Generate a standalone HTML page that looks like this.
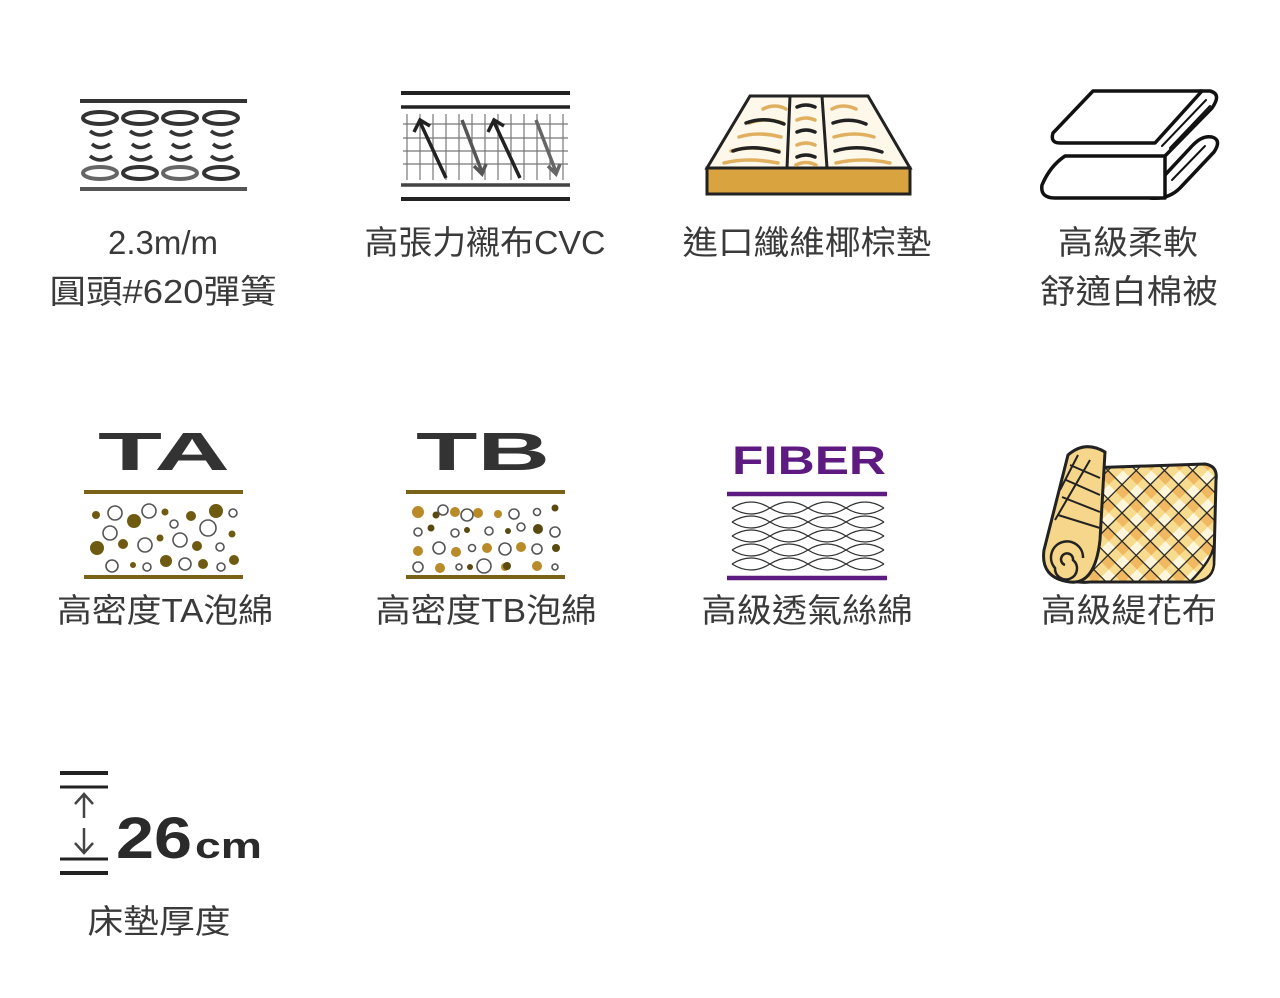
<!DOCTYPE html>
<html><head><meta charset="utf-8"><style>
html,body{margin:0;padding:0;background:#fff;}
svg{display:block;}
.lb{font-family:"Liberation Sans","Noto Sans CJK TC",sans-serif;font-size:33px;fill:#3a3a3a;text-anchor:middle;}
</style></head><body>
<svg width="1280" height="998" viewBox="0 0 1280 998" xmlns="http://www.w3.org/2000/svg">
<!-- Spring icon -->
<g stroke="#333" fill="none">
<line x1="80" y1="101" x2="247" y2="101" stroke-width="4"/>
<line x1="80" y1="189" x2="247" y2="189" stroke-width="4" stroke="#555"/>
<g stroke-width="4">
<ellipse cx="100" cy="118" rx="17" ry="6"/><ellipse cx="140" cy="118" rx="17" ry="6"/><ellipse cx="180" cy="118" rx="17" ry="6"/><ellipse cx="221" cy="118" rx="17" ry="6"/>
<ellipse cx="100" cy="173" rx="17" ry="6" stroke="#666"/><ellipse cx="140" cy="173" rx="17" ry="6"/><ellipse cx="180" cy="173" rx="17" ry="6" stroke="#666"/><ellipse cx="221" cy="173" rx="17" ry="6"/>
</g>
<g stroke-width="3.5">
<path d="M90,131 Q100,139 112,131 M130,131 Q140,139 152,131 M170,131 Q180,139 192,131 M211,131 Q221,139 233,131"/>
<path d="M92,144 Q100,151 110,144 M132,144 Q140,151 150,144 M172,144 Q180,151 190,144 M213,144 Q221,151 231,144"/>
<path d="M90,156 Q100,164 112,156 M130,156 Q140,164 152,156 M170,156 Q180,164 192,156 M211,156 Q221,164 233,156"/>
</g>
</g>
<!-- CVC icon -->
<g stroke="#222" fill="none">
<line x1="401" y1="93" x2="570" y2="93" stroke-width="4"/>
<line x1="401" y1="107" x2="570" y2="107" stroke-width="3.5"/>
<line x1="401" y1="185" x2="570" y2="185" stroke-width="3.5" stroke="#444"/>
<line x1="401" y1="199" x2="570" y2="199" stroke-width="4"/>
<g stroke="#777" stroke-width="1.2">
<line x1="403" y1="124" x2="568" y2="124"/><line x1="403" y1="138" x2="568" y2="138"/><line x1="403" y1="151" x2="568" y2="151"/><line x1="403" y1="164" x2="568" y2="164"/>
<line x1="407" y1="114" x2="407" y2="180"/><line x1="420" y1="114" x2="420" y2="180"/><line x1="433" y1="114" x2="433" y2="180"/><line x1="446" y1="114" x2="446" y2="180"/><line x1="459" y1="114" x2="459" y2="180"/><line x1="472" y1="114" x2="472" y2="180"/><line x1="485" y1="114" x2="485" y2="180"/><line x1="498" y1="114" x2="498" y2="180"/><line x1="511" y1="114" x2="511" y2="180"/><line x1="524" y1="114" x2="524" y2="180"/><line x1="537" y1="114" x2="537" y2="180"/><line x1="550" y1="114" x2="550" y2="180"/><line x1="563" y1="114" x2="563" y2="180"/>
</g>
<g stroke-width="3.5">
<path d="M446,178 L420,122 M414,132 L420,120 L430,126"/>
<path d="M462,120 L482,172 M474,166 L482,174 L486,164" stroke="#555"/>
<path d="M520,178 L494,122 M488,132 L494,120 L504,126"/>
<path d="M536,120 L556,172 M548,166 L556,174 L560,164" stroke="#666"/>
</g>
</g>
<!-- Coconut mat -->
<g stroke="#222" stroke-width="3">
<path d="M750,96 L868,96 L910,168 L707,168 Z" fill="#fdf8ea"/>
<rect x="707" y="168" width="203" height="26" fill="#d9a440"/>
<line x1="790" y1="96" x2="787" y2="168"/><line x1="822" y1="96" x2="827" y2="168"/>
</g>
<g fill="none" stroke-width="3.5" stroke-linecap="round">
<path d="M763,109 Q775,103 786,109 M749,123 Q765,117 783,123 M739,137 Q758,131 781,137 M731,151 Q752,145 779,151 M724,163 Q748,157 778,163" stroke="#e0b060"/>
<path d="M746,123 Q765,116 784,124 M733,151 Q752,144 779,152" stroke="#222"/>
<path d="M797,107 Q806,103 815,107 M797,132 Q806,128 815,132 M797,157 Q806,153 815,157" stroke="#222"/>
<path d="M797,120 Q806,116 815,120 M797,145 Q806,141 815,145 M796,165 Q806,160 816,165" stroke="#e0b060"/>
<path d="M832,109 Q843,103 856,109 M834,137 Q855,131 874,137 M836,163 Q862,157 890,163" stroke="#e0b060"/>
<path d="M833,123 Q850,117 866,124 M835,151 Q858,144 882,152" stroke="#222"/>
</g>
<!-- Blanket -->
<g fill="#fff" stroke="#111" stroke-width="3.5" stroke-linejoin="round" stroke-linecap="round">
<path d="M1150,198 Q1168,200 1180,188 L1214,152 Q1222,140 1212,137 Q1202,135 1192,146 L1165,175"/>
<path d="M1065,156 L1165,156 L1165,198 L1055,198 Q1040,198 1042,185 Q1050,166 1065,156 Z"/>
<path d="M1165,156 L1212,108 Q1222,94 1210,91 L1200,91"/>
<path d="M1093,91 L1202,91 L1155,143 L1060,143 Q1050,143 1053,133 Z"/>
<path d="M1162,146 L1206,100 M1170,148 L1210,106" fill="none" stroke-width="2"/>
<path d="M1172,180 L1205,146" fill="none" stroke-width="2"/>
</g>
<!-- TA -->
<text x="164" y="470" font-family="Liberation Sans,sans-serif" font-weight="bold" font-size="54" fill="#333" text-anchor="middle" textLength="132" lengthAdjust="spacingAndGlyphs">TA</text>
<g stroke="#7a6218" stroke-width="4"><line x1="84" y1="492" x2="243" y2="492"/><line x1="84" y1="577" x2="243" y2="577"/></g>
<g fill="#6e5a10"><circle cx="96" cy="515" r="4"/><circle cx="134" cy="521" r="7"/><circle cx="165" cy="512" r="3.5"/><circle cx="191" cy="516" r="5"/><circle cx="216" cy="511" r="7"/><circle cx="232" cy="534" r="3.5"/><circle cx="97" cy="548" r="7"/><circle cx="123" cy="544" r="5"/><circle cx="160" cy="538" r="3.5"/><circle cx="197" cy="546" r="5"/><circle cx="133" cy="565" r="3"/><circle cx="166" cy="561" r="6"/><circle cx="203" cy="564" r="5"/><circle cx="234" cy="560" r="5"/></g>
<g fill="none" stroke="#555" stroke-width="1.6"><circle cx="115" cy="513" r="7"/><circle cx="149" cy="511" r="7"/><circle cx="174" cy="524" r="4"/><circle cx="233" cy="513" r="4"/><circle cx="110" cy="533" r="7"/><circle cx="145" cy="545" r="7"/><circle cx="180" cy="540" r="7"/><circle cx="208" cy="528" r="8"/><circle cx="220" cy="547" r="4"/><circle cx="112" cy="566" r="6"/><circle cx="147" cy="567" r="4"/><circle cx="185" cy="564" r="6"/><circle cx="221" cy="567" r="4"/></g>
<!-- TB -->
<text x="483" y="470" font-family="Liberation Sans,sans-serif" font-weight="bold" font-size="54" fill="#333" text-anchor="middle" textLength="134" lengthAdjust="spacingAndGlyphs">TB</text>
<g stroke="#7a6218" stroke-width="4"><line x1="406" y1="492" x2="565" y2="492"/><line x1="406" y1="577" x2="565" y2="577"/></g>
<g fill="#b88a28"><circle cx="418" cy="512" r="6"/><circle cx="455" cy="512" r="5"/><circle cx="478" cy="513" r="5"/><circle cx="498" cy="514" r="4"/><circle cx="418" cy="551" r="5"/><circle cx="456" cy="552" r="5"/><circle cx="487" cy="548" r="5"/><circle cx="521" cy="547" r="5"/><circle cx="440" cy="568" r="5"/><circle cx="537" cy="566" r="5"/><circle cx="505" cy="567" r="4"/></g>
<g fill="#5a4a10"><circle cx="436" cy="515" r="3.5"/><circle cx="555" cy="508" r="3.5"/><circle cx="431" cy="528" r="3.5"/><circle cx="467" cy="530" r="3"/><circle cx="508" cy="531" r="3"/><circle cx="538" cy="529" r="5"/><circle cx="556" cy="548" r="4"/><circle cx="470" cy="567" r="3"/><circle cx="507" cy="566" r="4"/></g>
<g fill="none" stroke="#555" stroke-width="1.6"><circle cx="443" cy="510" r="5"/><circle cx="467" cy="515" r="6"/><circle cx="514" cy="514" r="5"/><circle cx="537" cy="512" r="3.5"/><circle cx="418" cy="532" r="4"/><circle cx="455" cy="533" r="4"/><circle cx="489" cy="531" r="4"/><circle cx="521" cy="527" r="4"/><circle cx="555" cy="532" r="5"/><circle cx="439" cy="548" r="6"/><circle cx="472" cy="548" r="3.5"/><circle cx="505" cy="549" r="6"/><circle cx="537" cy="549" r="5"/><circle cx="418" cy="567" r="5"/><circle cx="459" cy="567" r="3"/><circle cx="484" cy="566" r="7"/><circle cx="555" cy="567" r="3"/></g>
<!-- FIBER -->
<text x="809" y="474" font-family="Liberation Sans,sans-serif" font-weight="bold" font-size="40" fill="#5d1a80" text-anchor="middle" textLength="154" lengthAdjust="spacingAndGlyphs">FIBER</text>
<g stroke="#5d1a80" stroke-width="4.5"><line x1="727" y1="494" x2="887" y2="494"/><line x1="727" y1="578" x2="887" y2="578"/></g>
<g fill="none" stroke="#333" stroke-width="1.3">
<path d="M732,508 Q751,496 770,508 Q789,496 808,508 Q827,496 846,508 Q865,496 884,508"/>
<path d="M732,508 Q751,520 770,508 Q789,520 808,508 Q827,520 846,508 Q865,520 884,508"/>
<path d="M732,522 Q751,510 770,522 Q789,510 808,522 Q827,510 846,522 Q865,510 884,522"/>
<path d="M732,536 Q751,524 770,536 Q789,524 808,536 Q827,524 846,536 Q865,524 884,536"/>
<path d="M732,536 Q751,548 770,536 Q789,548 808,536 Q827,548 846,536 Q865,548 884,536"/>
<path d="M732,550 Q751,538 770,550 Q789,538 808,550 Q827,538 846,550 Q865,538 884,550"/>
<path d="M732,564 Q751,552 770,564 Q789,552 808,564 Q827,552 846,564 Q865,552 884,564"/>
<path d="M732,564 Q751,576 770,564 Q789,576 808,564 Q827,576 846,564 Q865,576 884,564"/>
<path d="M732,522 Q751,534 770,522 Q789,534 808,522 Q827,534 846,522 Q865,534 884,522"/>
<path d="M732,550 Q751,562 770,550 Q789,562 808,550 Q827,562 846,550 Q865,562 884,550"/>
</g>
<!-- Jacquard roll -->
<defs>
<pattern id="pt" width="20" height="20" patternUnits="userSpaceOnUse" patternTransform="rotate(45 1130 520)"><rect width="20" height="20" fill="#f7dc90"/><rect width="10" height="10" fill="#f0b860"/><rect x="10" y="10" width="10" height="10" fill="#fff6dc"/><path d="M0,0 H20 V20" fill="none" stroke="#222" stroke-width="2.5"/></pattern></defs>
<path d="M1085,468 L1205,464 Q1218,466 1216,480 L1214,560 Q1214,580 1195,582 L1090,582 Q1060,585 1058,560 Z" fill="url(#pt)" stroke="#222" stroke-width="3"/>
<path d="M1190,582 Q1212,560 1214,545 L1214,565 Q1212,582 1190,582 Z" fill="#f7dc90" stroke="#222" stroke-width="2.5"/>
<path d="M1068,455 Q1085,440 1105,452 L1100,540 Q1095,585 1070,582 Q1040,578 1044,550 Z" fill="#f5d68a" stroke="#222" stroke-width="3"/>
<path d="M1070,465 L1100,478 M1066,480 L1100,495 M1062,497 L1100,512 M1058,515 L1100,528 M1078,455 L1060,490 M1090,460 L1055,520" stroke="#222" stroke-width="2" fill="none"/>
<path d="M1065,565 m0,0 a6,6 0 1,1 8,-5 a11,11 0 1,1 -18,8 a16,16 0 1,1 28,-10" fill="none" stroke="#222" stroke-width="2.5"/>
<!-- 26cm -->
<g stroke="#222" stroke-width="4"><line x1="60" y1="773" x2="108" y2="773"/><line x1="60" y1="787" x2="108" y2="787" stroke-width="3"/><line x1="60" y1="859" x2="108" y2="859" stroke-width="3"/><line x1="60" y1="873" x2="108" y2="873"/></g>
<g stroke="#444" stroke-width="2.5" fill="none"><path d="M84,818 L84,795 M75,804 L84,794 L93,804"/><path d="M84,828 L84,852 M75,843 L84,853 L93,843"/></g>
<text x="116" y="858" font-family="Liberation Sans,sans-serif" font-weight="bold" font-size="58" fill="#2a2a2a" textLength="76" lengthAdjust="spacingAndGlyphs">26</text>
<text x="195" y="858" font-family="Liberation Sans,sans-serif" font-weight="bold" font-size="36" fill="#2a2a2a" textLength="67" lengthAdjust="spacingAndGlyphs">cm</text>
<!-- labels -->
<text class="lb" x="163" y="254">2.3m/m</text>
<text class="lb" x="163" y="303" textLength="227" lengthAdjust="spacingAndGlyphs">圓頭#620彈簧</text>
<text class="lb" x="485" y="254" textLength="241" lengthAdjust="spacingAndGlyphs">高張力襯布CVC</text>
<text class="lb" x="807" y="254" textLength="249" lengthAdjust="spacingAndGlyphs">進口纖維椰棕墊</text>
<text class="lb" x="1128" y="254" textLength="140" lengthAdjust="spacingAndGlyphs">高級柔軟</text>
<text class="lb" x="1129" y="303" textLength="178" lengthAdjust="spacingAndGlyphs">舒適白棉被</text>
<text class="lb" x="165" y="622" textLength="216" lengthAdjust="spacingAndGlyphs">高密度TA泡綿</text>
<text class="lb" x="486" y="622" textLength="221" lengthAdjust="spacingAndGlyphs">高密度TB泡綿</text>
<text class="lb" x="807" y="622" textLength="211" lengthAdjust="spacingAndGlyphs">高級透氣絲綿</text>
<text class="lb" x="1129" y="622" textLength="176" lengthAdjust="spacingAndGlyphs">高級緹花布</text>
<text class="lb" x="159" y="933" textLength="143" lengthAdjust="spacingAndGlyphs">床墊厚度</text>
</svg>
</body></html>
